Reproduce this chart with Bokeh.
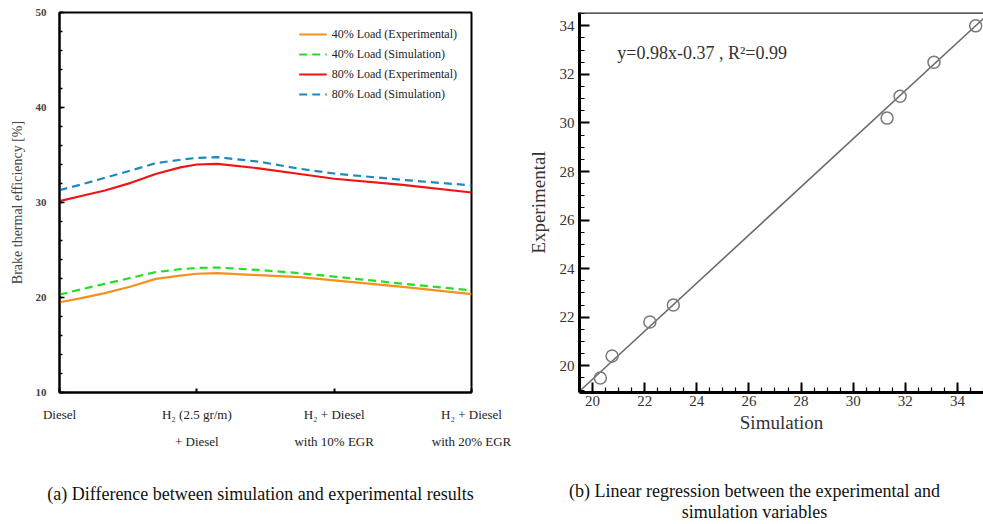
from bokeh.plotting import figure
from bokeh.layouts import column, row
from bokeh.models import (Range1d, FixedTicker, SingleIntervalTicker, Legend,
                          LegendItem, Label, Span)
from bokeh.embed import file_html
from bokeh.resources import INLINE
from bokeh.core.properties import value

FONT = "Liberation Serif"

# ---------------- Panel (a) data ----------------
categories = ["Diesel", "H₂ (2.5 gr/m)\n+ Diesel", "H₂ + Diesel\nwith 10% EGR", "H₂ + Diesel\nwith 20% EGR"]
cat_pos = [0, 1, 2, 3]
curve_x = [0, 0.15, 0.33, 0.52, 0.7, 0.88, 1.0, 1.15, 1.45, 1.75, 2.0, 2.5, 3.0]
load40_exp = [19.5, 19.9, 20.46, 21.16, 21.96, 22.3, 22.5, 22.56, 22.35, 22.14, 21.8, 21.12, 20.35]
load40_sim = [20.3, 20.84, 21.44, 22.07, 22.67, 22.98, 23.1, 23.16, 22.9, 22.56, 22.2, 21.45, 20.75]
load80_exp = [30.15, 30.66, 31.26, 32.07, 33.0, 33.7, 34.0, 34.07, 33.6, 33.0, 32.5, 31.85, 31.05]
load80_sim = [31.3, 31.86, 32.6, 33.37, 34.14, 34.5, 34.7, 34.77, 34.3, 33.55, 33.05, 32.38, 31.8]
series_names = ["40% Load (Experimental)", "40% Load (Simulation)",
                "80% Load (Experimental)", "80% Load (Simulation)"]
series_colors = ["#f7901e", "#22e022", "#f01414", "#1f88c2"]
series_dash = ["solid", "8 5", "solid", "8 5"]
y_label_a = "Brake thermal efficiency [%]"

# ---------------- Panel (b) data ----------------
sim_values = [20.3, 20.75, 22.2, 23.1, 31.3, 31.8, 33.1, 34.7]
exp_values = [19.5, 20.4, 21.8, 22.5, 30.2, 31.1, 32.5, 34.0]
reg_x = [19.5, 35.0]
reg_y = [18.95, 34.3]
reg_text = "y=0.98x-0.37 , R²=0.99"

caption_a = ["(a) Difference between simulation and experimental results"]
caption_b = ["(b) Linear regression between the experimental and", "simulation variables"]

# ---------------- Panel (a) ----------------
pa = figure(width=519, height=460, x_range=Range1d(0, 3), y_range=Range1d(10, 50),
            output_backend="svg", toolbar_location=None,
            min_border_left=59, min_border_right=48, min_border_top=12, min_border_bottom=68)
pa.xgrid.visible = False
pa.ygrid.visible = False
pa.outline_line_color = "black"
pa.outline_line_width = 2
pa.outline_line_alpha = 1

pa.xaxis.ticker = FixedTicker(ticks=cat_pos)
pa.xaxis.major_label_overrides = {p: c for p, c in zip(cat_pos, categories)}
pa.xaxis.major_tick_in = 4
pa.xaxis.major_tick_out = 0
pa.xaxis.major_tick_line_width = 2
pa.xaxis.axis_line_width = 2
pa.xaxis.major_label_text_font = FONT
pa.xaxis.major_label_text_font_size = "13px"
pa.xaxis.major_label_text_color = "#222"
pa.xaxis.major_label_text_line_height = 1.82
pa.xaxis.major_label_standoff = 14

pa.yaxis.ticker = SingleIntervalTicker(interval=10, num_minor_ticks=5)
pa.yaxis.major_tick_in = 5
pa.yaxis.major_tick_out = 0
pa.yaxis.minor_tick_in = 3
pa.yaxis.minor_tick_out = 0
pa.yaxis.major_tick_line_width = 1.5
pa.yaxis.minor_tick_line_width = 1.5
pa.yaxis.axis_line_width = 2
pa.yaxis.major_label_text_font = FONT
pa.yaxis.major_label_text_font_size = "11px"
pa.yaxis.major_label_text_font_style = "bold"
pa.yaxis.major_label_standoff = 13
pa.yaxis.axis_label = y_label_a
pa.yaxis.axis_label_text_font = FONT
pa.yaxis.axis_label_text_font_size = "14px"
pa.yaxis.axis_label_text_font_style = "normal"
pa.yaxis.axis_label_standoff = 8

renderers = []
for ys, col, dash in zip([load40_exp, load40_sim, load80_exp, load80_sim], series_colors, series_dash):
    r = pa.line(curve_x, ys, line_color=col, line_width=2.2, line_dash=dash)
    renderers.append(r)

legend = Legend(items=[LegendItem(label=n, renderers=[r]) for n, r in zip(series_names, renderers)],
                location="top_right", background_fill_alpha=0, border_line_color=None,
                label_text_font=FONT, label_text_font_size="12px", label_text_color="#222",
                glyph_width=28, glyph_height=16, label_height=16, spacing=4,
                padding=8, margin=14, label_standoff=5)
pa.add_layout(legend)

# ---------------- Panel (b) ----------------
pb = figure(width=464, height=460, x_range=Range1d(19.5, 35.0), y_range=Range1d(18.9, 34.55),
            output_backend="svg", toolbar_location=None,
            min_border_left=60, min_border_right=0, min_border_top=12, min_border_bottom=67)
pb.xgrid.visible = False
pb.ygrid.visible = False
pb.outline_line_color = None

for ax in (pb.xaxis, pb.yaxis):
    ax.ticker = SingleIntervalTicker(interval=2, num_minor_ticks=4)
    ax.major_tick_in = 10
    ax.major_tick_out = 0
    ax.minor_tick_in = 5
    ax.minor_tick_out = 0
    ax.major_tick_line_width = 2
    ax.minor_tick_line_width = 1.2
    ax.axis_line_width = 3
    ax.major_label_text_font = FONT
    ax.major_label_text_font_size = "15px"
    ax.major_label_text_color = "#333"
    ax.axis_label_text_font = FONT
    ax.axis_label_text_font_size = "19px"
    ax.axis_label_text_font_style = "normal"
    ax.axis_label_text_color = "#333"
pb.xaxis.major_label_standoff = 3
pb.xaxis.axis_label = "Simulation"
pb.xaxis.axis_label_standoff = 3
pb.yaxis.major_label_standoff = 5
pb.yaxis.axis_label = "Experimental"
pb.yaxis.axis_label_standoff = 8

pb.add_layout(Span(location=pb.y_range.end, dimension="width", line_color="#222", line_width=2.5))
pb.line(reg_x, reg_y, line_color="#6b6b6b", line_width=1.6)
pb.scatter(sim_values, exp_values, marker="circle", size=12, fill_color=None,
           line_color="#7a7a7a", line_width=1.5)
pb.add_layout(Label(x=20.95, y=32.9, text=reg_text, text_baseline="middle",
                    text_font=FONT, text_font_size="18px", text_color="#333"))

# ---------------- Captions ----------------
def caption_fig(w, h, lines, cx, ys):
    f = figure(width=w, height=h, x_range=Range1d(0, w), y_range=Range1d(h, 0),
               x_axis_type=None, y_axis_type=None, output_backend="svg",
               toolbar_location=None, min_border=0)
    f.outline_line_color = None
    f.grid.visible = False
    f.text(x=[cx] * len(lines), y=ys, text=lines, text_align="center", text_baseline="middle",
           text_font=value(FONT), text_font_size="18px", text_color="#111")
    return f

ca = caption_fig(519, 64, caption_a, 260, [33])
cb = caption_fig(464, 64, caption_b, 235, [30, 51])

layout = column(row(pa, pb), row(ca, cb))
open("out.html", "w").write(file_html(layout, INLINE))
